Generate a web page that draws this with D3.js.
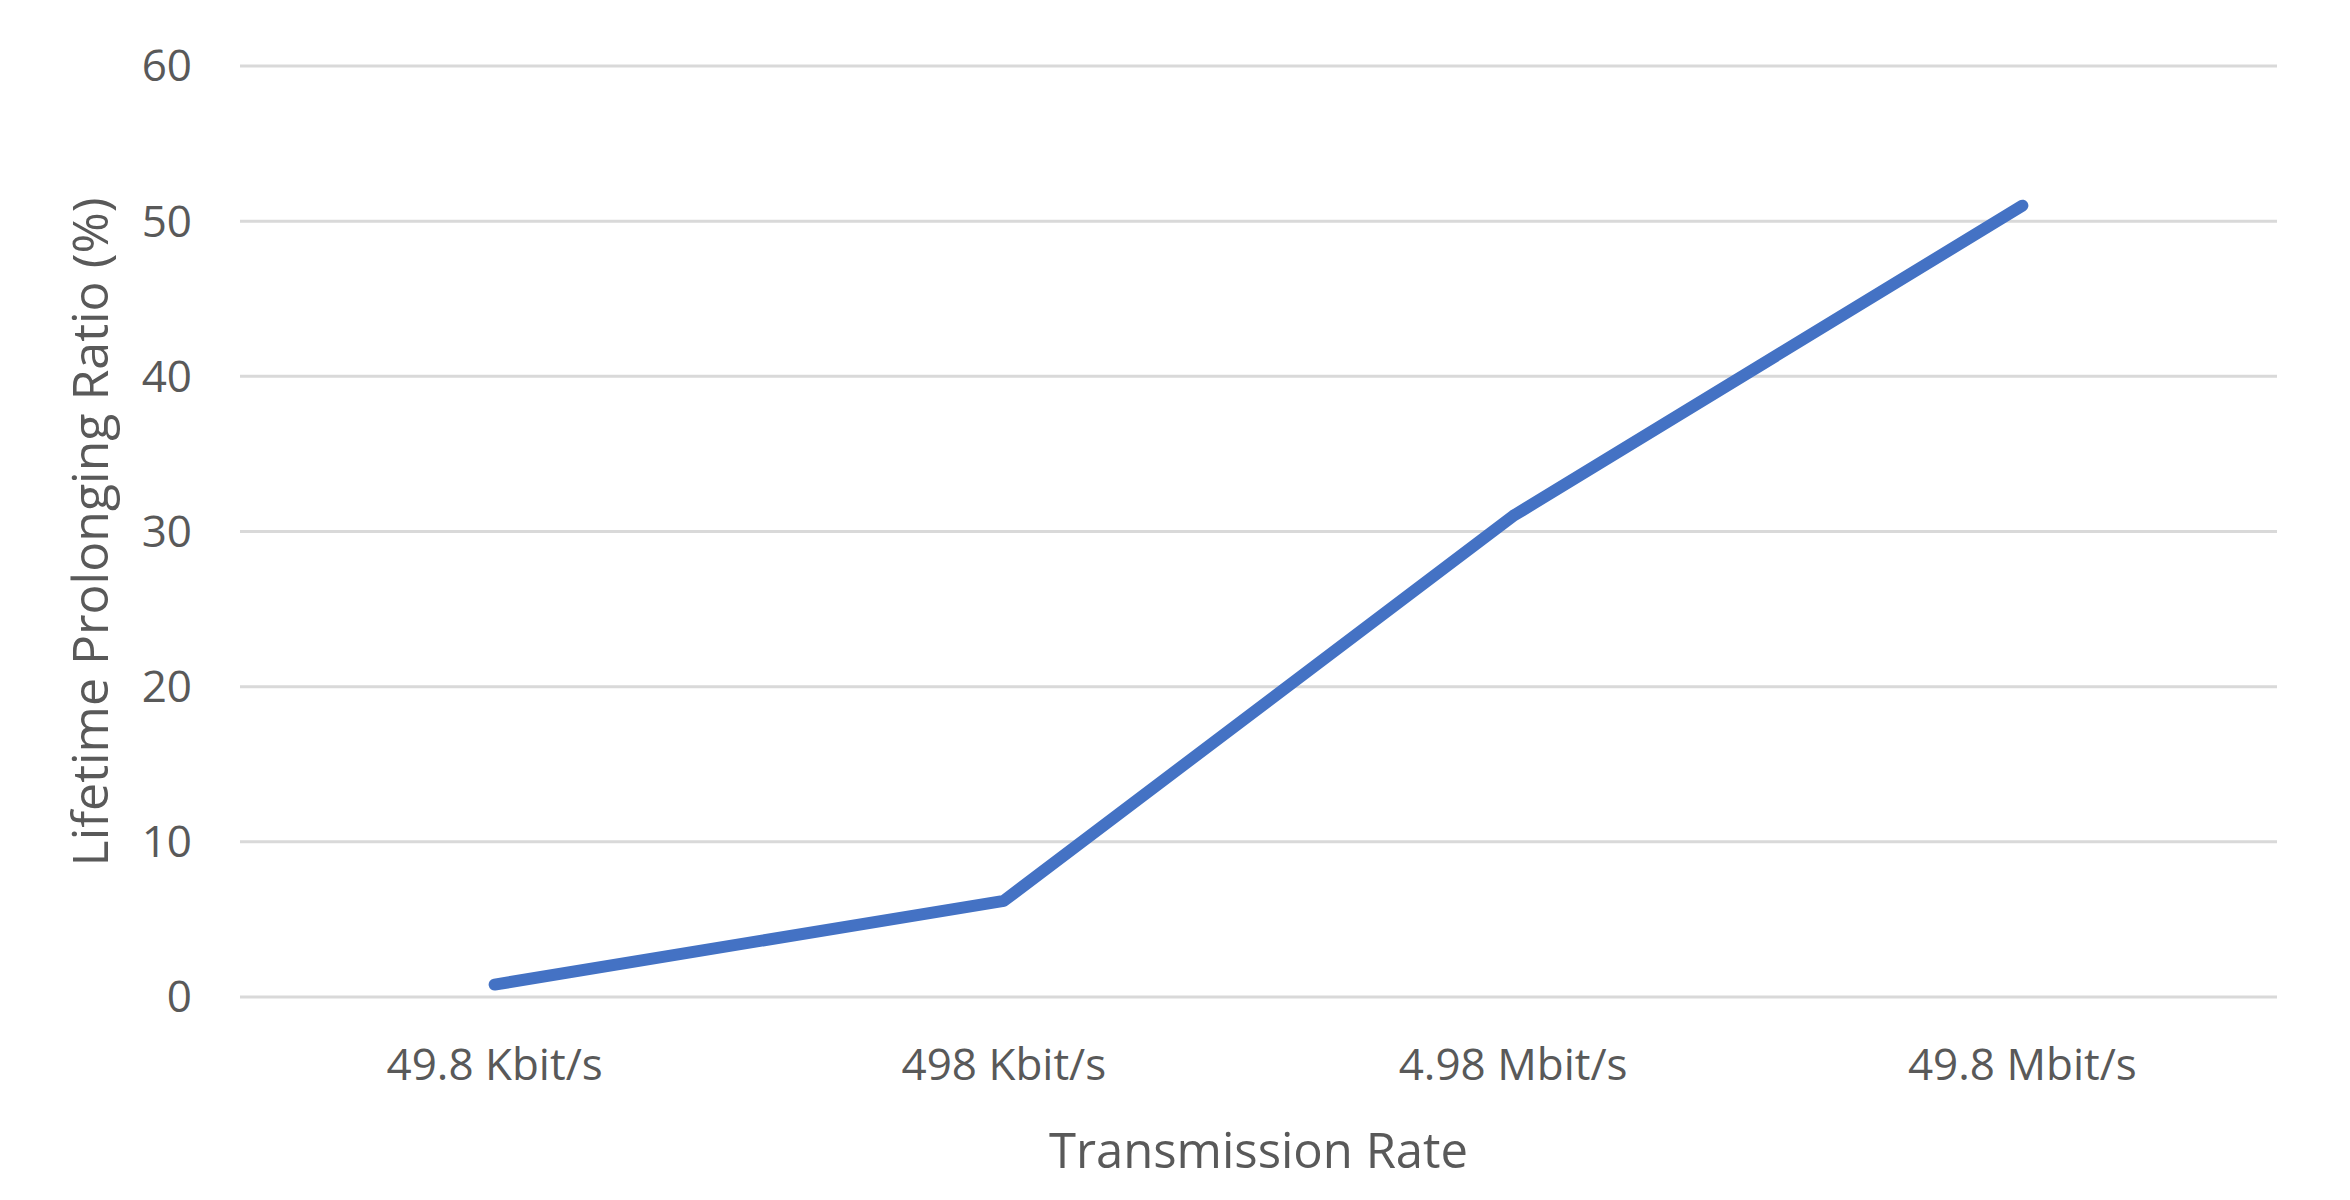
<!DOCTYPE html>
<html><head><meta charset="utf-8">
<script src="https://cdn.jsdelivr.net/npm/d3@7"></script>
<style>body{margin:0;background:#fff}</style>
</head><body><div id="chart"></div>
<script>
var categories = ["49.8 Kbit/s", "498 Kbit/s", "4.98 Mbit/s", "49.8 Mbit/s"];
var values = [0.8, 6.2, 31, 51];
var yTicks = [0, 10, 20, 30, 40, 50, 60];

var width = 2350, height = 1200;
var margin = { top: 66, right: 73, bottom: 203, left: 240 };

var svg = d3.select("#chart").append("svg")
    .attr("width", width).attr("height", height)
    .style("font-family", "'Open Sans', 'Liberation Sans', sans-serif");

var x = d3.scaleBand().domain(categories).range([margin.left, width - margin.right]);
var y = d3.scaleLinear().domain([0, 60]).range([height - margin.bottom, margin.top]);

// gridlines
svg.selectAll("line.grid").data(yTicks).enter().append("line")
    .attr("x1", margin.left).attr("x2", width - margin.right)
    .attr("y1", d => y(d)).attr("y2", d => y(d))
    .attr("stroke", "#d9d9d9").attr("stroke-width", 3);

// y tick labels
svg.selectAll("text.ytick").data(yTicks).enter().append("text")
    .attr("x", 192).attr("y", d => y(d)).attr("dy", "0.35em")
    .attr("text-anchor", "end").attr("font-size", 44).attr("fill", "#595959")
    .text(d => d);

// x tick labels
svg.selectAll("text.xtick").data(categories).enter().append("text")
    .attr("x", d => x(d) + x.bandwidth() / 2).attr("y", 1080)
    .attr("text-anchor", "middle").attr("font-size", 44).attr("fill", "#595959")
    .text(d => d);

// line
var line = d3.line()
    .x((d, i) => x(categories[i]) + x.bandwidth() / 2)
    .y(d => y(d));
svg.append("path").datum(values)
    .attr("d", line).attr("fill", "none")
    .attr("stroke", "#4472C4").attr("stroke-width", 12)
    .attr("stroke-linecap", "round").attr("stroke-linejoin", "round");

// axis titles
svg.append("text").attr("x", (margin.left + width - margin.right) / 2).attr("y", 1168)
    .attr("text-anchor", "middle").attr("font-size", 49).attr("fill", "#595959")
    .text("Transmission Rate");
svg.append("text").attr("transform", "translate(108,532) rotate(-90)")
    .attr("text-anchor", "middle").attr("font-size", 50).attr("fill", "#595959")
    .text("Lifetime Prolonging Ratio (%)");
</script></body></html>
